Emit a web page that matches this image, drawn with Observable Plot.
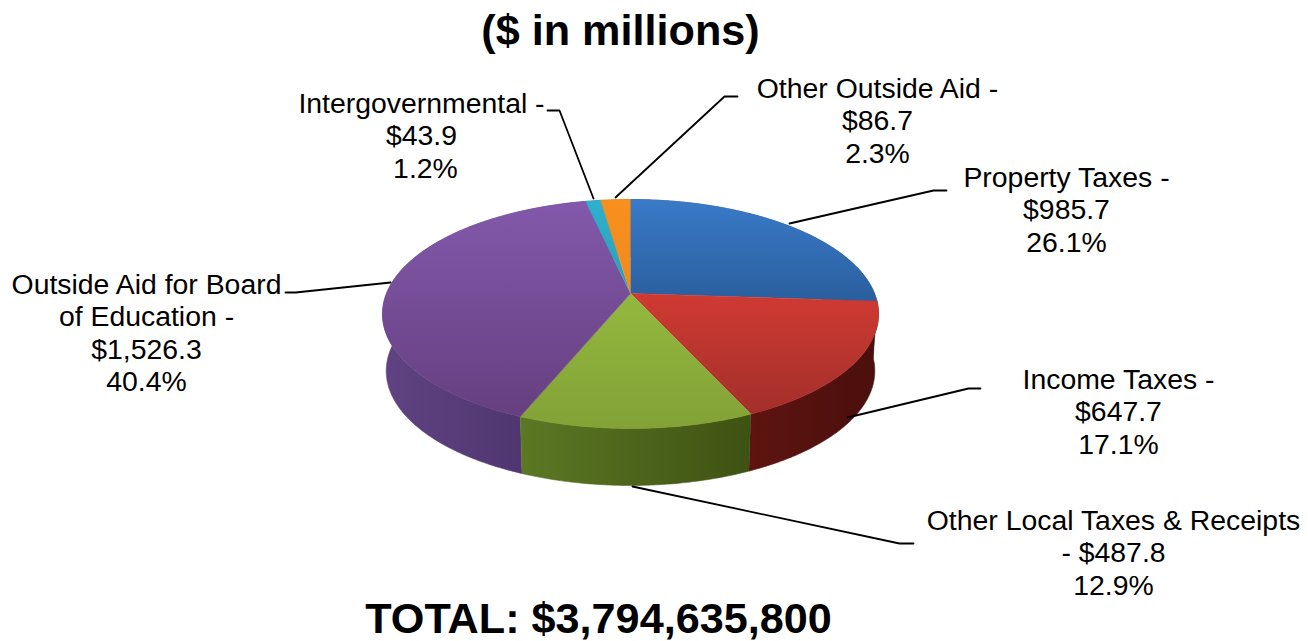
<!DOCTYPE html>
<html>
<head>
<meta charset="utf-8">
<style>
html,body{margin:0;padding:0;background:#fff;overflow:hidden}
svg{display:block}
.pie{filter:blur(0.7px)}
</style>
<script src="https://cdn.jsdelivr.net/npm/d3@7"></script>
<script src="https://cdn.jsdelivr.net/npm/@observablehq/plot@0.6"></script>
</head>
<body>
<script>
const categories = ["Property Taxes","Income Taxes","Other Local Taxes & Receipts","Outside Aid for Board of Education","Intergovernmental","Other Outside Aid"];
const values = [985.7, 647.7, 487.8, 1526.3, 43.9, 86.7];
const shares = ["26.1%","17.1%","12.9%","40.4%","\u00a01.2%","2.3%"];
const amounts = ["$985.7","$647.7","$487.8","$1,526.3","$43.9","$86.7"];
const headLines = [
  "Property Taxes -",
  "Income Taxes -",
  "Other Local Taxes & Receipts\n- ",
  "Outside Aid for Board\nof Education -",
  "Intergovernmental -",
  "Other Outside Aid -"
];
const title = "($ in millions)";
const totalLabel = "TOTAL: $3,794,635,800";

// label layout
const labelX = [1066, 1118, 1113, 146, 421, 877];
const labelTop = [176, 378, 519, 283, 102, 87];
// leader routes, one per category
const leaderX = [[789,933,946],[847,968,980],[632,899,913],[390,295,285],[593,559,547],[615,724,737]];
const leaderY = [[223,190,190],[417,388,388],[486,543,543],[282,292,292],[198,110,110],[197,96,96]];

const texts = categories.map((c,i) => {
  const head = headLines[i];
  const full = head.endsWith(" ") ? head + amounts[i] + "\n" + shares[i]
                                  : head + "\n" + amounts[i] + "\n" + shares[i];
  return {text: full, x: labelX[i], top: labelTop[i], lines: full.split("\n").length};
});

// pie geometry: a circle under a mild perspective
const cx = 630, cy = 293, a = 244, b = 110.8, k = 0.179, depth = 57, shrink = 0.985;
const pt = (th, low) => {
  const c = Math.sin(th), s = -Math.cos(th), d = 1 - k * s;
  const X = a * c / d, Y = b * s / d;
  return low ? {x: cx + X * shrink, y: cy + Y + depth} : {x: cx + X, y: cy + Y};
};
const total = d3.sum(values);
let run = 0;
const slices = values.map((v,i) => {
  const t0 = run / total * 2 * Math.PI; run += v;
  return {i, t0, t1: run / total * 2 * Math.PI};
});
const arc = (s, low) => {
  const n = Math.max(2, Math.ceil((s.t1 - s.t0) / 0.01));
  return d3.range(n + 1).map(j => pt(s.t0 + (s.t1 - s.t0) * j / n, low));
};
const topFace = s => [{x: cx, y: cy}, ...arc(s, false)];
const sideFace = s => [...arc(s, false), ...arc(s, true).reverse()];

const topColors = [["#3a7ac8","#2a5f9e"],["#d03a33","#a32f2a"],["#93b83e","#82a236"],["#8259ab","#663f80"],["#2fb0cc","#2aa0bb"],["#f8901e","#f08a20"]];
const sideColors = [["#24507f","#24507f"],["#5e1411","#4a0f0c"],["#5c7824","#3e5212"],["#5f4382","#493068"],["#1d7a90","#1d7a90"],["#b0641a","#b0641a"]];

const defs = () => {
  const d = d3.create("svg:defs");
  topColors.forEach((c,i) => {
    const g = d.append("linearGradient").attr("id","top"+i).attr("x1",0).attr("y1",0).attr("x2",0).attr("y2",1);
    g.append("stop").attr("offset",0).attr("stop-color",c[0]);
    g.append("stop").attr("offset",1).attr("stop-color",c[1]);
  });
  sideColors.forEach((c,i) => {
    const g = d.append("linearGradient").attr("id","side"+i).attr("x1",0).attr("y1",0).attr("x2",1).attr("y2",0);
    g.append("stop").attr("offset",0).attr("stop-color",c[0]);
    g.append("stop").attr("offset",1).attr("stop-color",c[1]);
  });
  return d.node();
};

const sideOrder = [0,5,4,1,3,2];
const chart = Plot.plot({
  width: 1308, height: 641,
  margin: 0,
  x: {domain: [0,1308], range: [0,1308], axis: null},
  y: {domain: [0,641], range: [0,641], axis: null},
  style: {background: "#fff", fontFamily: "'Liberation Sans', Arial, sans-serif"},
  marks: [
    defs,
    ...sideOrder.map(i => Plot.line(sideFace(slices[i]), {x:"x", y:"y", fill:`url(#side${i})`, stroke:`url(#side${i})`, strokeWidth:0.6, className:"pie"})),
    ...slices.map(s => Plot.line(topFace(s), {x:"x", y:"y", fill:`url(#top${s.i})`, stroke:`url(#top${s.i})`, strokeWidth:0.6, className:"pie"})),
    ...leaderX.map((xs,i) => Plot.line(xs.map((x,j) => ({x, y: leaderY[i][j]})), {x:"x", y:"y", stroke:"#000", strokeWidth:1.8})),
    Plot.text(texts, {x:"x", y:d => d.top + (d.lines-1)*32.5/2, text:"text", fontSize:28.4, lineHeight:32.5/28.4, fill:"#000", textAnchor:"middle", lineAnchor:"middle"}),
    Plot.text([title], {x:()=>620, y:()=>31, text:d=>d, fontSize:43.2, fontWeight:700, fill:"#000"}),
    Plot.text([totalLabel], {x:()=>598, y:()=>619, text:d=>d, fontSize:43.2, fontWeight:700, fill:"#000"})
  ]
});
document.body.appendChild(chart);
</script>
</body>
</html>
